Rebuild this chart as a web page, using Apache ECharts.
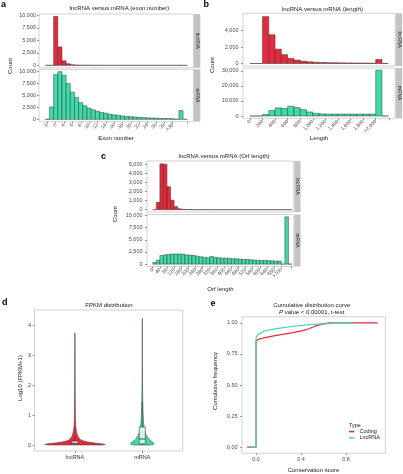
<!DOCTYPE html>
<html><head><meta charset="utf-8">
<script src="https://cdn.jsdelivr.net/npm/echarts@6/dist/echarts.min.js"></script>
<style>html,body{margin:0;padding:0;background:#fff}#c{width:403px;height:474px}</style>
</head><body><div id="c"></div>
<script>
// ================= DATA =================
// (a) exon number histogram, bin centres (bin width 1)
const exonBins = [0,1,2,3,4,5,6,7,8,9,10,11,12,13,14,15,16,17,18,19,20,21,22,23,24,25,26,27,28,29,30,31,32,33];
const exonLnc  = [0,0,9800,3700,930,330,130,60,35,25,18,14,10,8,6,5,4,3,3,2,2,2,1,1,1,1,1,1,1,1,1,0,20,0];
const exonMrna = [0,2600,9400,10000,9250,7500,5700,4600,3500,2850,2350,2000,1700,1450,1280,1080,940,830,700,620,550,480,420,360,310,270,230,200,180,150,130,0,1850,0];
const exonTicks = [0,2,4,6,8,10,12,14,16,18,20,22,24,26,28,30];
const exonTickLabels = ['0','2','4','6','8','10','12','14','16','18','20','22','24','26','28','>30'];
const exonExtraTick = [33.4];

// (b) length histogram, bin centres (bin width 100)
const lengthBins = [50,150,250,350,450,550,650,750,850,950,1050,1150,1250,1350,1450,1550,1650,1750,1850,1950,2050,2150];
const lengthLnc  = [0,0,5700,3500,1750,1080,620,420,290,210,160,130,110,95,85,75,65,60,55,50,500,0];
const lengthMrna = [0,0,1000,3700,5400,5000,6500,5600,4200,2700,1800,1400,1300,1300,1300,1300,1300,1300,1300,1300,30500,0];
const lengthTicks = [0,200,400,600,800,1000,1200,1400,1600,1800,2000];
const lengthTickLabels = ['0','200','400','600','800','1,000','1,200','1,400','1,600','1,800','>2,000'];
const lengthExtraTick = [2213];

// (c) ORF length histogram, bin centres (bin width 20)
const orfBins = [10,30,50,70,90,110,130,150,170,190,210,230,250,270,290,310,330,350,370,390,410,430,450,470,490,510,530,550,570,590,610,630,650,670,690,710,730,750,770];
const orfLnc  = [0,820,5050,5000,2530,1050,340,100,45,25,15,10,8,6,5,3,3,2,2,2,2,1,1,1,1,1,1,1,1,1,1,1,1,1,1,0,0,0,0];
const orfMrna = [350,800,1770,1900,2000,2080,2080,2080,2050,1900,1850,1800,1650,1510,1400,1300,1580,1400,1300,1230,1230,1160,1100,1100,1030,960,960,900,820,820,750,750,690,690,620,620,0,9700,0];
const orfTicks = [0,40,80,120,160,200,240,280,320,360,400,440,480,520,560,600,640,680,720];
const orfTickLabels = ['0','40','80','120','160','200','240','280','320','360','400','440','480','520','560','600','640','680','>700'];
const orfExtraTick = [774];

// count axis ticks
const countTicksA = [0,2500,5000,7500,10000];
const countTicksBTop = [0,2000,4000];
const countTicksBBot = [0,10000,20000,30000];
const countTicksCTop = [0,1000,2000,3000,4000,5000];
const countTicksCBot = [0,2500,5000,7500,10000];

// (d) FPKM violins: y levels (log10(FPKM+1)) and half widths (category units)
const violinCats = ['lncRNA','mRNA'];
const lncViolinY = [0,0.02,0.04,0.07,0.10,0.13,0.17,0.22,0.30,0.40,0.50,0.65,0.80,1.0,1.5,2.0,2.5,3.0,3.5,3.73];
const lncViolinW = [0.40,0.45,0.40,0.29,0.19,0.13,0.09,0.065,0.042,0.028,0.02,0.012,0.009,0.007,0.005,0.004,0.003,0.003,0.002,0.002];
const mViolinY = [0,0.02,0.05,0.10,0.15,0.20,0.30,0.40,0.50,0.70,1.0,1.2,1.4,1.7,2.0,2.5,3.0,3.5,4.0,4.22];
const mViolinW = [0.12,0.16,0.176,0.15,0.12,0.095,0.065,0.045,0.033,0.021,0.013,0.010,0.008,0.006,0.004,0.003,0.0025,0.002,0.0015,0.001];
// box: [lower whisker, q1, median, q3, upper whisker]
const lncBox = [0,0.02,0.055,0.13,0.30];
const mBox   = [0,0.04,0.20,0.60,1.44];
const fpkmTicks = [0,1,2,3,4];

// (e) cumulative distribution
const codingX = [-0.08,0,0,0.02,0.07,0.18,0.33,0.42,0.47,0.50,0.54,0.57,0.61,0.66,1.08];
const codingY = [0,0,0.855,0.868,0.879,0.900,0.922,0.940,0.953,0.965,0.978,0.986,0.994,1.0,1.0];
const lncX = [-0.065,0,0,0.005,0.015,0.03,0.07,0.18,0.33,0.48,0.63,0.70,0.87];
const lncY = [0,0,0.88,0.895,0.905,0.914,0.935,0.954,0.973,0.986,0.994,1.0,1.0];
const cdfYTicks = [0,0.25,0.5,0.75,1];
const cdfXTicks = [0,0.4,0.8];

// ================= STYLE =================
const RED = '#e62a3d', TEAL = '#3ddbab';
const FONT = 'Liberation Sans, Arial, sans-serif';
const LAB = '#4d4d4d';
const comma = v => String(Math.round(v)).replace(/\B(?=(\d{3})+(?!\d))/g, ',');

const grids = [
  {left:39,  top:14,    width:154.5, height:53.8},  // a top
  {left:39,  top:69.3,  width:154.5, height:52.4},  // a bottom
  {left:243, top:13.3,  width:152.2, height:52.7},  // b top
  {left:243, top:68,    width:152.2, height:50.3},  // b bottom
  {left:147, top:161,   width:146.8, height:51},    // c top
  {left:147, top:214.5, width:146.8, height:52},    // c bottom
  {left:34.5,top:310,   width:148.2, height:141},   // d
  {left:242, top:316.7, width:143.5, height:136.6}  // e
].map(g => Object.assign(g, {show:true, borderColor:'#b3b3b3', borderWidth:0.6, backgroundColor:'#fff'}));

const tickStyle = {lineStyle:{color:'#333', width:0.5}, length:2};
const noLine = {show:false, onZero:false};
function yAx(gi, min, max, ticks, fmt, margin) {
  return {type:'value', gridIndex:gi, min, max, position:'left', splitLine:{show:false}, axisLine:noLine,
    axisTick:Object.assign({show:true, customValues:ticks}, tickStyle),
    axisLabel:{customValues:ticks, formatter:fmt, fontSize:5.5, color:LAB, fontFamily:FONT, margin}};
}
function xHidden(gi, min, max) {
  return {type:'value', gridIndex:gi, min, max, show:false, position:'bottom', axisLine:noLine, splitLine:{show:false}};
}
function xAx(gi, min, max, ticks, labels, extra, rotate) {
  return {type:'value', gridIndex:gi, min, max, position:'bottom', splitLine:{show:false}, axisLine:noLine,
    axisTick:Object.assign({show:true, customValues:ticks.concat(extra)}, tickStyle),
    axisLabel:{customValues:ticks, rotate:rotate, fontSize:5, color:LAB, fontFamily:FONT, margin:2.5,
      formatter: v => { const i = ticks.findIndex(t => Math.abs(t - v) < 1e-6); return i >= 0 ? labels[i] : ''; }}};
}

function histSeries(gi, bins, vals, binW, color) {
  return {type:'custom', xAxisIndex:gi, yAxisIndex:gi, silent:true,
    data: bins.map((b, i) => [b, vals[i]]),
    encode:{x:0, y:1},
    renderItem: (params, api) => {
      const x = api.value(0), y = api.value(1);
      const p0 = api.coord([x - binW/2, y]);
      const p1 = api.coord([x + binW/2, 0]);
      return {type:'rect', shape:{x:p0[0], y:p0[1], width:p1[0]-p0[0], height:p1[1]-p0[1]},
        style:{fill:color, stroke:'#2b2b2b', lineWidth:0.45}};
    }};
}

const violins = [
  {y:lncViolinY, w:lncViolinW, box:lncBox, fill:RED, boxFill:'#fbe6e8'},
  {y:mViolinY,   w:mViolinW,   box:mBox,   fill:TEAL, boxFill:'#d3f7eb'}
];
const BOX_HALF = 0.045;
const violinSeries = {type:'custom', xAxisIndex:6, yAxisIndex:6, silent:true,
  data: violinCats.map((c, i) => [i + 1, i]),
  encode:{x:0},
  renderItem: (params, api) => {
    const cx = api.value(0), v = violins[api.value(1)];
    const right = v.y.map((y, i) => api.coord([cx + v.w[i], y]));
    const left = v.y.map((y, i) => api.coord([cx - v.w[i], y])).reverse();
    const b = v.box;
    const bt = api.coord([cx - BOX_HALF, b[3]]), bb = api.coord([cx + BOX_HALF, b[1]]);
    const med0 = api.coord([cx - BOX_HALF, b[2]]), med1 = api.coord([cx + BOX_HALF, b[2]]);
    const wTop = api.coord([cx, b[4]]), wQ3 = api.coord([cx, b[3]]);
    const wBot = api.coord([cx, b[0]]), wQ1 = api.coord([cx, b[1]]);
    return {type:'group', children:[
      {type:'polygon', shape:{points:right.concat(left)}, style:{fill:v.fill, stroke:'#333', lineWidth:0.5}},
      {type:'line', shape:{x1:wQ3[0], y1:wQ3[1], x2:wTop[0], y2:wTop[1]}, style:{stroke:'#222', lineWidth:0.5}},
      {type:'line', shape:{x1:wQ1[0], y1:wQ1[1], x2:wBot[0], y2:wBot[1]}, style:{stroke:'#222', lineWidth:0.5}},
      {type:'rect', shape:{x:bt[0], y:bt[1], width:bb[0]-bt[0], height:bb[1]-bt[1]}, style:{fill:v.boxFill, stroke:'#222', lineWidth:0.5}},
      {type:'line', shape:{x1:med0[0], y1:med0[1], x2:med1[0], y2:med1[1]}, style:{stroke:'#222', lineWidth:0.8}}
    ]};
  }};

// ---- text / decoration helpers ----
function T(x, y, text, size, o) {
  o = o || {};
  const st = {text, fontSize:size, fontFamily:FONT, fontWeight:o.bold?'bold':'normal',
    fill:o.color||'#1a1a1a', align:o.align||'center', verticalAlign:'middle'};
  if (o.rich) st.rich = o.rich;
  return {type:'text', x, y, rotation:o.rot||0, silent:true, z:100, style:st};
}
function R(x, y, w, h, fill) {
  return {type:'rect', shape:{x, y, width:w, height:h}, style:{fill}, silent:true, z:90};
}
const STRIP = '#c4c4c4';
const strips = [
  [194, 14, 6.3, 53.8, 'lncRNA'], [194, 69.3, 6.3, 52.4, 'mRNA'],
  [395.8, 13.3, 6.3, 52.7, 'lncRNA'], [395.8, 68, 6.3, 50.3, 'mRNA'],
  [294.3, 161, 6.3, 51, 'lncRNA'], [294.3, 214.5, 6.3, 52, 'mRNA']
];
const graphic = [];
strips.forEach(s => {
  graphic.push(R(s[0], s[1], s[2], s[3], STRIP));
  graphic.push(T(s[0] + s[2]/2, s[1] + s[3]/2, s[4], 4.8, {rot:-Math.PI/2}));
});
// panel letters
graphic.push(T(1, 4.5, 'a', 9, {bold:true, align:'left', color:'#000'}));
graphic.push(T(203.5, 5, 'b', 9, {bold:true, align:'left', color:'#000'}));
graphic.push(T(101, 157, 'c', 9, {bold:true, align:'left', color:'#000'}));
graphic.push(T(2, 302.5, 'd', 9, {bold:true, align:'left', color:'#000'}));
graphic.push(T(210.5, 303.5, 'e', 9, {bold:true, align:'left', color:'#000'}));
// titles
graphic.push(T(119.5, 8.8, 'lncRNA versus mRNA (exon number)', 6));
graphic.push(T(322.5, 9.2, 'lncRNA versus mRNA (length)', 6));
graphic.push(T(224, 156, 'lncRNA versus mRNA (Orf length)', 6));
graphic.push(T(109, 305.7, 'FPKM distribution', 6));
graphic.push(T(311.7, 305.7, 'Cumulative distribution curve', 6));
graphic.push(T(311.7, 312.7, '{i|P} value < 0.00001, t-test', 6, {rich:{i:{fontStyle:'italic', fontSize:6, fontFamily:FONT, fill:'#1a1a1a'}}}));
// axis titles
graphic.push(T(10.5, 66, 'Count', 6, {rot:Math.PI/2}));
graphic.push(T(116, 138.5, 'Exon number', 6));
graphic.push(T(212.7, 65, 'Count', 6, {rot:Math.PI/2}));
graphic.push(T(319, 138.5, 'Length', 6));
graphic.push(T(115, 214, 'Count', 6, {rot:Math.PI/2}));
graphic.push(T(220.5, 289, 'Orf length', 6));
graphic.push(T(20, 378, 'Log10 (FPKM+1)', 6, {rot:Math.PI/2}));
graphic.push(T(215, 381, 'Cumulative frequency', 6, {rot:Math.PI/2}));
graphic.push(T(313.5, 470, 'Conservation score', 6));
graphic.push(T(349, 425.3, 'Type', 5.5, {align:'left'}));

const zip = (xs, ys) => xs.map((x, i) => [x, ys[i]]);

const option = {
  animation:false,
  textStyle:{fontFamily:FONT},
  grid: grids,
  xAxis: [
    xHidden(0, -2, 35),
    xAx(1, -2, 35, exonTicks, exonTickLabels, exonExtraTick, 45),
    xHidden(2, -110, 2310),
    xAx(3, -110, 2310, lengthTicks, lengthTickLabels, lengthExtraTick, 45),
    xHidden(4, -32, 790),
    xAx(5, -32, 790, orfTicks, orfTickLabels, orfExtraTick, 45),
    {type:'value', gridIndex:6, min:0.4, max:2.6, position:'bottom', splitLine:{show:false}, axisLine:noLine,
      axisTick:Object.assign({show:true, customValues:[1,2]}, tickStyle),
      axisLabel:{customValues:[1,2], formatter:v => violinCats[Math.round(v) - 1] || '', fontSize:5.5, color:'#333', fontFamily:FONT, margin:3.5}},
    {type:'value', gridIndex:7, min:-0.125, max:1.15, position:'bottom', splitLine:{show:false}, axisLine:noLine,
      axisTick:Object.assign({show:true, customValues:cdfXTicks}, tickStyle),
      axisLabel:{customValues:cdfXTicks, formatter:v => v.toFixed(1), fontSize:5.5, color:LAB, fontFamily:FONT, margin:3.5}}
  ],
  yAxis: [
    yAx(0, -490, 10290, countTicksA, comma, 3),
    yAx(1, -500, 10500, countTicksA, comma, 3),
    yAx(2, -300, 6100, countTicksBTop, comma, 4.5),
    yAx(3, -1520, 31920, countTicksBBot, comma, 4.5),
    yAx(4, -255, 5355, countTicksCTop, comma, 4.5),
    yAx(5, -485, 10185, countTicksCBot, comma, 4.5),
    yAx(6, -0.2, 4.5, fpkmTicks, v => String(Math.round(v)), 3.5),
    yAx(7, -0.05, 1.05, cdfYTicks, v => v.toFixed(2), 4.5)
  ],
  legend:{data:['Coding','LncRNA'], orient:'vertical', left:349, top:428.6, padding:0, itemGap:0.3,
    itemWidth:5.5, itemHeight:1.5, icon:'rect', selectedMode:false,
    textStyle:{fontSize:5.5, color:'#1a1a1a', fontFamily:FONT}},
  graphic: graphic,
  series: [
    histSeries(0, exonBins, exonLnc, 1, RED),
    histSeries(1, exonBins, exonMrna, 1, TEAL),
    histSeries(2, lengthBins, lengthLnc, 100, RED),
    histSeries(3, lengthBins, lengthMrna, 100, TEAL),
    histSeries(4, orfBins, orfLnc, 20, RED),
    histSeries(5, orfBins, orfMrna, 20, TEAL),
    violinSeries,
    {type:'line', name:'Coding', xAxisIndex:7, yAxisIndex:7, data:zip(codingX, codingY), symbol:'none',
      color:RED, lineStyle:{color:RED, width:1.2}, silent:true, z:2},
    {type:'line', name:'LncRNA', xAxisIndex:7, yAxisIndex:7, data:zip(lncX, lncY), symbol:'none',
      color:TEAL, lineStyle:{color:TEAL, width:1.2}, silent:true, z:3}
  ]
};
const chart = echarts.init(document.getElementById('c'), null, {renderer:'canvas'});
chart.setOption(option);
</script>
</body></html>
